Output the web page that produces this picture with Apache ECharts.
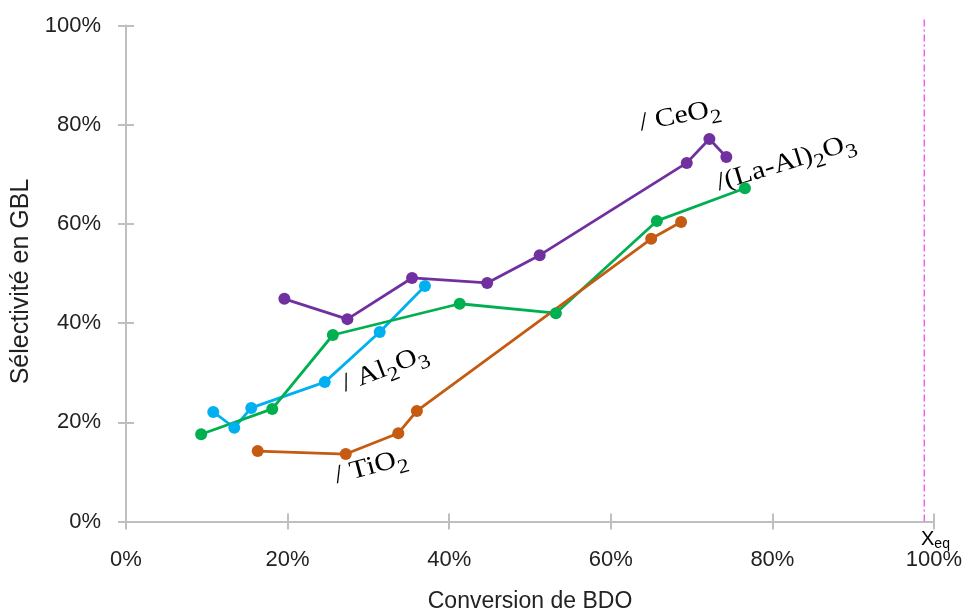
<!DOCTYPE html>
<html><head><meta charset="utf-8">
<script src="https://cdn.jsdelivr.net/npm/echarts@6/dist/echarts.min.js"></script>
<style>html,body{margin:0;padding:0;background:#fff}#c{width:965px;height:609px}</style>
</head><body><div id="c"></div>
<script>
// Data (conversion %, selectivity %)
const ceo2X = [19.6, 27.4, 35.4, 44.7, 51.2, 69.4, 72.2, 74.3];
const ceo2Y = [44.9, 40.8, 49.1, 48.1, 53.7, 72.3, 77.1, 73.5];
const al2o3X = [10.8, 13.4, 15.5, 24.6, 31.4, 37.0];
const al2o3Y = [22.1, 18.9, 22.9, 28.1, 38.2, 47.5];
const laalX = [9.3, 18.1, 25.6, 41.3, 53.2, 65.7, 76.6];
const laalY = [17.6, 22.7, 37.6, 43.9, 42.0, 60.6, 67.2];
const tio2X = [16.3, 27.2, 33.7, 36.0, 65.0, 68.7];
const tio2Y = [14.2, 13.6, 17.8, 22.3, 57.0, 60.4];
const xeqX = [98.8, 98.8];
const xeqY = [0, 101.5];

const zip = (a, b) => a.map((v, i) => [v, b[i]]);
const chart = echarts.init(document.getElementById('c'));
const axisCol = '#BFBFBF';
const labFont = {fontFamily: 'Liberation Sans', fontSize: 22, color: '#222'};
function ser(name, xs, ys, color) {
  return {name, type: 'line', data: zip(xs, ys), symbol: 'circle', symbolSize: 12,
    lineStyle: {color, width: 2.8}, itemStyle: {color}, z: 3};
}
function rich(color) {
  return {
    s: {fontFamily: 'Liberation Serif', fontSize: 20, color, padding: [17, 0, 0, 0]},
    n: {fontFamily: 'Liberation Serif', fontSize: 26, color}
  };
}
const deg = Math.PI / 180;
function ann(x, y, rot, text, color) {
  return {type: 'text', x, y, rotation: rot * deg, scaleX: 1.15,
    style: {text, rich: rich(color), align: 'center', verticalAlign: 'middle'}};
}
chart.setOption({
  animation: false,
  grid: {left: 126, right: 31, top: 25.5, bottom: 87.5, containLabel: false, outerBoundsMode: 'none'},
  xAxis: [{
    type: 'value', min: 0, max: 100, interval: 20,
    name: 'Conversion de BDO', nameLocation: 'middle', nameGap: 69,
    nameTextStyle: {fontFamily: 'Liberation Sans', fontSize: 23, color: '#222'},
    axisLine: {show: true, lineStyle: {color: axisCol, width: 2}},
    axisTick: {show: true, length: 8, lineStyle: {color: axisCol, width: 2}},
    axisLabel: Object.assign({margin: 27, formatter: v => v + '%'}, labFont),
    splitLine: {show: false}
  }, {
    type: 'value', min: 0, max: 100, interval: 20, position: 'bottom',
    axisLine: {show: false}, axisLabel: {show: false}, splitLine: {show: false},
    axisTick: {show: true, inside: true, length: 8, lineStyle: {color: axisCol, width: 2}}
  }],
  yAxis: [{
    type: 'value', min: 0, max: 100, interval: 20,
    name: 'Sélectivité en GBL', nameLocation: 'middle', nameGap: 91,
    nameTextStyle: {fontFamily: 'Liberation Sans', fontSize: 25, color: '#222', padding: [0, 16, 0, 0]},
    axisLine: {show: true, lineStyle: {color: axisCol, width: 2}},
    axisTick: {show: true, length: 8, lineStyle: {color: axisCol, width: 2}},
    axisLabel: Object.assign({margin: 25, formatter: v => v + '%'}, labFont),
    splitLine: {show: false}
  }, {
    type: 'value', min: 0, max: 100, interval: 20, position: 'left',
    axisLine: {show: false}, axisLabel: {show: false}, splitLine: {show: false},
    axisTick: {show: true, inside: true, length: 8, lineStyle: {color: axisCol, width: 2}}
  }],
  series: [
    {name: 'Xeq', type: 'line', data: zip(xeqX, xeqY), showSymbol: false, clip: false, silent: true, z: 1,
     lineStyle: {color: '#F060F0', width: 1.5, type: [7, 3, 2, 3]}},
    ser('CeO2', ceo2X, ceo2Y, '#7030A0'),
    ser('Al2O3', al2o3X, al2o3Y, '#00B0F0'),
    ser('(La-Al)2O3', laalX, laalY, '#00B050'),
    ser('TiO2', tio2X, tio2Y, '#C55A11')
  ],
  graphic: [
    ann(680, 116, 11, '{n|/ CeO}{s|2}', '#7030A0'),
    ann(786, 163, 17, '{n|/(La-Al)}{s|2}{n|O}{s|3}', '#00B050'),
    ann(385, 369, 21, '{n|/ Al}{s|2}{n|O}{s|3}', '#00B0F0'),
    ann(371, 467, 15, '{n|/ TiO}{s|2}', '#C55A11'),
    {type: 'text', x: 921, y: 527,
     style: {text: '{x|X}{e|eq}', rich: {
       x: {fontFamily: 'Liberation Sans', fontSize: 20, color: '#F050F0'},
       e: {fontFamily: 'Liberation Sans', fontSize: 14, color: '#F050F0', padding: [10, 0, 0, 0]}}}}
  ]
});
</script></body></html>
